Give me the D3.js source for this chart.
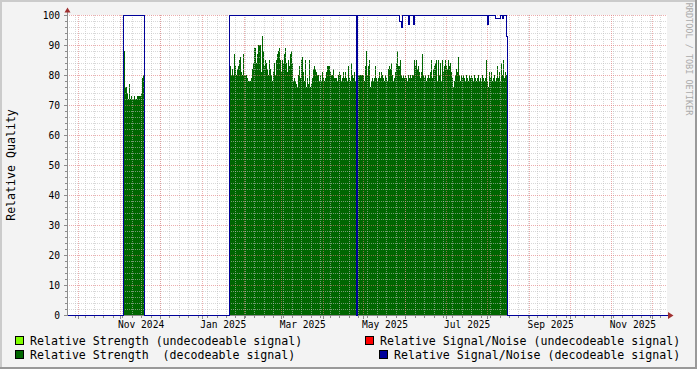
<!DOCTYPE html>
<html><head><meta charset="utf-8">
<script src="https://cdn.jsdelivr.net/npm/d3@7"></script>
<style>html,body{margin:0;padding:0;background:#f3f3f3;overflow:hidden} svg{display:block} text{font-family:"DejaVu Sans Mono",monospace}</style>
</head><body><svg id="c" width="697" height="369"></svg>
<script>
// ---------------- data ----------------
const domainStart = "2024-09-23T00:00:00Z";
const domainEnd   = "2025-12-12T07:00:00Z";
const stepHours   = 17.8117;               // one consolidated sample
const yTicks      = [0,10,20,30,40,50,60,70,80,90,100];
const xLabels     = ["Nov 2024","Jan 2025","Mar 2025","May 2025","Jul 2025","Sep 2025","Nov 2025"];
const xLabelDates = ["2024-11-17","2025-01-17","2025-03-17","2025-05-17","2025-07-17","2025-09-17","2025-11-17"];
const yTitle      = "Relative Quality";
const watermark   = "RRDTOOL / TOBI OETIKER";

const run1Start    = "2024-11-03T13:30:00Z";
const run1Strength = [85,88,76,76,74,72,77,72,73,72,72,73,72,72,73,73,73,73,74,79,80];
const run1Snr      = [100,100,100,100,100,100,100,100,100,100,100,100,100,100,100,100,100,100,100,100,100];

const run2Start    = "2025-01-21T05:30:00Z";
const run2Strength = [
 83,83,80,82,80,87,83,80,82,83, 85,86,81,80,87,80,80,80,79,78,
 78,78,79,82,84,89,89,84,87,90, 90,90,81,93,88,83,85,84,82,80,
 85,82,80,78,81,84,80,85,87,88, 89,85,81,85,84,87,89,84,81,85,
 83,87,88,84,78,79,78,77,76,80, 83,79,85,86,81,78,85,76,79,77,
 85,76,77,79,82,83,82,81,80,
 80,78,80,78,81,79,78,79,81,83, 83,83,81,80,80,82,79,79,79,78,
 80,81,80,78,79,81,79,81,79,78, 83,79,78,84,80,79,81,78,
 0,
 80,80,80,80,80,80,80,
 78,83,88,80,83,85,76,78,79,78, 79,83,79,78,79,81,79,81,80,79,
 78,80,79,78,82,83,82,84,80,78, 79,81,84,88,83,83,85,80,79,80,
 79,80,79,78,80,79,80,79,80,80,
 85,83,85,82,83,81,79,81,87,80, 79,80,78,79,80,79,81,85,79,82,
 83,84,85,78,85,80,84,78,85,81, 83,85,83,82,85,83,84,81,79,76,
 78,80,82,81,86,80,78,80,79,80, 79,78,80,79,78,80,79,80,79,78,
 80,79,78,79,80,78,79,78,80,79, 78,79,85,78,76,81,79,81,78,79,
 80,78,79,83,79,81,78,84,80,85, 79,81,80
];
const run2Snr = [
 100,100,100,100,100,100,100,100,100,100,100,100,100,100,100,100,100,100,100,100,
 100,100,100,100,100,100,100,100,100,100,100,100,100,100,100,100,100,100,100,100,
 100,100,100,100,100,100,100,100,100,100,100,100,100,100,100,100,100,100,100,100,
 100,100,100,100,100,100,100,100,100,100,100,100,100,100,100,100,100,100,100,100,
 100,100,100,100,100,100,100,100,100,100,100,100,100,100,100,100,100,100,100,100,
 100,100,100,100,100,100,100,100,100,100,100,100,100,100,100,100,100,100,100,100,
 100,100,100,100,100,100,100,0,100,100,100,100,100,100,100,100,100,100,100,100,
 100,100,100,100,100,100,100,100,100,100,100,100,100,100,100,100,100,100,100,100,
 100,100,100,100,100,100,100,100,100,100,98,98,96,100,100,100,100,100,100,97,
 100,100,100,100,97,100,100,100,100,100,100,100,100,100,100,100,100,100,100,100,
 100,100,100,100,100,100,100,100,100,100,100,100,100,100,100,100,100,100,100,100,
 100,100,100,100,100,100,100,100,100,100,100,100,100,100,100,100,100,100,100,100,
 100,100,100,100,100,100,100,100,100,100,100,100,100,100,100,100,100,100,97,100,
 100,100,100,100,100,100,99,99,99,99,99,100,100,99,100,100,100,93
];

const legendItems = [
  {label:"Relative Strength (undecodeable signal)",   color:"#80ff00"},
  {label:"Relative Signal/Noise (undecodeable signal)", color:"#ff0000"},
  {label:"Relative Strength  (decodeable signal)",    color:"#006600"},
  {label:"Relative Signal/Noise (decodeable signal)", color:"#000099"}
];

// ---------------- drawing ----------------
const W = 697, H = 369;
const PL = 67, PR = 667, PT = 15, PB = 315;
const svg = d3.select("#c");

const t0 = new Date(domainStart), t1 = new Date(domainEnd);
const x = d3.scaleUtc().domain([t0, t1]).range([PL, PR]);
const y = d3.scaleLinear().domain([0, 100]).range([PB, PT]);
const stepMs = stepHours * 3600e3;

// background + 3D border
svg.append("rect").attr("width", W).attr("height", H).attr("fill", "#f3f3f3");
svg.append("rect").attr("x",0).attr("y",0).attr("width",W).attr("height",2).attr("fill","#cbcbcb");
svg.append("rect").attr("x",0).attr("y",0).attr("width",2).attr("height",H).attr("fill","#cbcbcb");
svg.append("rect").attr("x",0).attr("y",H-2).attr("width",W).attr("height",2).attr("fill","#999999");
svg.append("rect").attr("x",W-2).attr("y",0).attr("width",2).attr("height",H).attr("fill","#999999");

// plot canvas
svg.append("rect").attr("x", PL).attr("y", PT).attr("width", PR-PL).attr("height", PB-PT).attr("fill", "#ffffff");

// build series
const pts = [{t: t0, s: 0, q: 0}];
function addRun(start, str, snr) {
  const st = new Date(start).getTime();
  str.forEach((v, i) => pts.push({t: new Date(st + i*stepMs), s: v, q: snr[i]}));
  pts.push({t: new Date(st + str.length*stepMs), s: 0, q: 0});
}
addRun(run1Start, run1Strength, run1Snr);
addRun(run2Start, run2Strength, run2Snr);
pts.push({t: t1, s: 0, q: 0});

// green area
const area = d3.area().curve(d3.curveStepAfter)
  .x(d => Math.round(x(d.t))).y0(y(0)).y1(d => y(d.s));
svg.append("path").datum(pts).attr("d", area)
  .attr("fill", legendItems[2].color).attr("shape-rendering", "crispEdges");

// grid
const g = svg.append("g").attr("shape-rendering", "crispEdges");
const minorY = d3.range(0, 101, 2).filter(v => v % 10 !== 0);
g.selectAll(".hmin").data(minorY).join("line")
  .attr("x1", PL).attr("x2", PR).attr("y1", v => y(v)+0.5).attr("y2", v => y(v)+0.5)
  .attr("stroke", "rgba(190,190,190,0.6)").attr("stroke-dasharray", "1,1");
const weeks = d3.utcSunday.range(t0, t1);
g.selectAll(".vmin").data(weeks).join("line")
  .attr("x1", d => Math.round(x(d))+0.5).attr("x2", d => Math.round(x(d))+0.5)
  .attr("y1", PT).attr("y2", PB)
  .attr("stroke", "rgba(190,190,190,0.6)").attr("stroke-dasharray", "1,1");
g.selectAll(".hmaj").data(yTicks.filter(v => v > 0)).join("line")
  .attr("x1", PL).attr("x2", PR).attr("y1", v => y(v)+0.5).attr("y2", v => y(v)+0.5)
  .attr("stroke", "rgba(225,120,120,0.6)").attr("stroke-dasharray", "1,1");
const months = d3.utcMonth.range(t0, t1);
g.selectAll(".vmaj").data(months).join("line")
  .attr("x1", d => Math.round(x(d))+0.5).attr("x2", d => Math.round(x(d))+0.5)
  .attr("y1", PT).attr("y2", PB)
  .attr("stroke", "rgba(225,120,120,0.6)").attr("stroke-dasharray", "1,1");

// axes
const ax = svg.append("g").attr("shape-rendering", "crispEdges").attr("stroke", "#8c8c8c");
ax.append("line").attr("x1", PL+0.5).attr("x2", PL+0.5).attr("y1", PB+1).attr("y2", 10);
ax.append("line").attr("x1", PL).attr("x2", 668).attr("y1", PB+0.5).attr("y2", PB+0.5);
ax.selectAll(".yt").data(d3.range(0, 101, 2)).join("line")
  .attr("x1", v => v % 10 === 0 ? PL-3 : PL-2).attr("x2", PL)
  .attr("y1", v => y(v)+0.5).attr("y2", v => y(v)+0.5);
ax.selectAll(".xtw").data(weeks).join("line")
  .attr("x1", d => Math.round(x(d))+0.5).attr("x2", d => Math.round(x(d))+0.5)
  .attr("y1", PB+1).attr("y2", PB+3);
ax.selectAll(".xtm").data(months).join("line")
  .attr("x1", d => Math.round(x(d))+0.5).attr("x2", d => Math.round(x(d))+0.5)
  .attr("y1", PB+1).attr("y2", PB+4);
// arrows
svg.append("path").attr("d", `M${PL-2.5},12.5 L${PL+3.5},12.5 L${PL+0.5},7.5 Z`).attr("fill", "#a03030");
svg.append("path").attr("d", `M668,312 L668,319 L673.5,315.5 Z`).attr("fill", "#a03030");

// blue SNR line
const line = d3.line().curve(d3.curveStepAfter)
  .x(d => Math.round(x(d.t))+0.5).y(d => y(d.q)+0.5);
svg.append("path").datum(pts).attr("d", line)
  .attr("fill", "none").attr("stroke", legendItems[3].color).attr("stroke-width", 1)
  .attr("shape-rendering", "crispEdges");

// tick labels
svg.selectAll(".yl").data(yTicks).join("text")
  .attr("x", 60).attr("y", v => y(v)+0.5).attr("dy", "0.36em")
  .attr("text-anchor", "end").attr("font-size", "9.6px").attr("fill", "#000").text(v => v);
svg.selectAll(".xl").data(xLabels).join("text")
  .attr("x", (d, i) => x(new Date(xLabelDates[i] + "T00:00:00Z")))
  .attr("y", 328).attr("text-anchor", "middle").attr("font-size", "9.6px").attr("fill", "#000").text(d => d);

// y title
svg.append("text").attr("transform", "translate(15,165) rotate(-90)")
  .attr("text-anchor", "middle").attr("font-size", "11.6px").attr("fill", "#000").text(yTitle);
// watermark
svg.append("text").attr("transform", "translate(685.5,59) rotate(90)")
  .attr("text-anchor", "middle").attr("font-size", "8.5px").attr("fill", "#aaaaaa").text(watermark);

// legend
const legPos = [
  {bx:15.5, by:336.5, tx:30, ty:344.5},
  {bx:365.5, by:336.5, tx:380, ty:344.5},
  {bx:15.5, by:350.5, tx:30, ty:358.5},
  {bx:379.5, by:350.5, tx:394, ty:358.5}
];
legendItems.forEach((it, i) => {
  const p = legPos[i];
  svg.append("rect").attr("x", p.bx).attr("y", p.by).attr("width", 8).attr("height", 8)
    .attr("fill", it.color).attr("stroke", "#000").attr("stroke-width", 1);
  svg.append("text").attr("x", p.tx).attr("y", p.ty).attr("font-size", "11.6px")
    .attr("fill", "#000").style("white-space", "pre").text(it.label);
});
</script>
</body></html>
